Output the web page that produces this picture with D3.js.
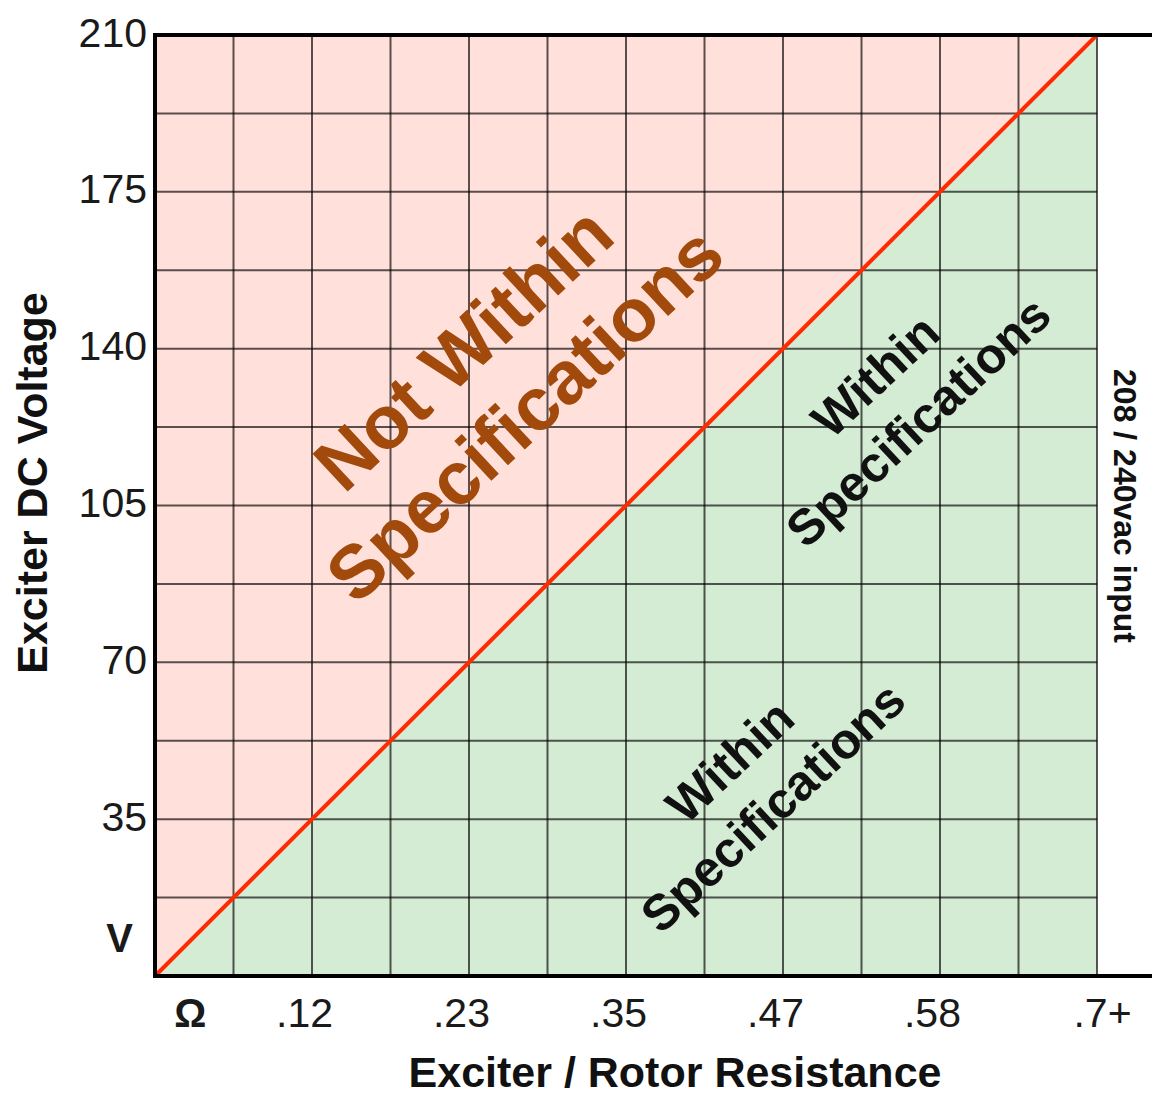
<!DOCTYPE html>
<html>
<head>
<meta charset="utf-8">
<script src="https://cdn.jsdelivr.net/npm/d3@7/dist/d3.min.js"></script>
<style>
  html, body { margin: 0; padding: 0; background: #fff; }
  svg { display: block; }
  text { font-family: "Liberation Sans", Arial, Helvetica, sans-serif; }
</style>
</head>
<body>
<svg id="chart" width="1152" height="1097"></svg>
<script>
// ---- data ----
const xDomain = [0, 0.7];            // exciter / rotor resistance (ohm)
const yDomain = [0, 210];            // exciter DC voltage
const xTickValues = [0, 0.1167, 0.2333, 0.35, 0.4667, 0.5833, 0.7];
const xTickLabels = ["Ω", ".12", ".23", ".35", ".47", ".58", ".7+"];
const yTickValues = [0, 35, 70, 105, 140, 175, 210];
const yTickLabels = ["V", "35", "70", "105", "140", "175", "210"];
const gridDivisions = 12;
const specLine = [{ r: 0, v: 0 }, { r: 0.7, v: 210 }];
const regionLabels = [
  { lines: ["Not Within", "Specifications"], r: 0.265, v: 128.5, kind: "out" },
  { lines: ["Within", "Specifications"], r: 0.560, v: 126, kind: "in" },
  { lines: ["Within", "Specifications"], r: 0.452, v: 40, kind: "in" }
];
const xTitle = "Exciter / Rotor Resistance";
const yTitle = "Exciter DC Voltage";
const rightNote = "208 / 240vac input";

// ---- layout ----
(function () {
const svg = d3.select("#chart");
const W = 1152;
const mLeft = 155, mRight = 1097, mTop = 35, mBottom = 976;

const x = d3.scaleLinear().domain(xDomain).range([mLeft, mRight]);
const y = d3.scaleLinear().domain(yDomain).range([mBottom, mTop]);

// regions
const xMin = xDomain[0], xMax = xDomain[1], yMin = yDomain[0], yMax = yDomain[1];
const a = specLine[0], b = specLine[1];
const poly = d3.line().x(d => x(d[0])).y(d => y(d[1]));
svg.append("path")
  .attr("d", poly([[a.r, a.v], [xMin, yMax], [b.r, b.v]]) + "Z")
  .attr("fill", "#ffe0db");
svg.append("path")
  .attr("d", poly([[a.r, a.v], [b.r, b.v], [xMax, yMin]]) + "Z")
  .attr("fill", "#d4ebd4");

// grid
const gx = d3.range(gridDivisions + 1).map(i => xMin + (xMax - xMin) * i / gridDivisions);
const gy = d3.range(gridDivisions + 1).map(i => yMin + (yMax - yMin) * i / gridDivisions);
const grid = svg.append("g").attr("stroke", "#000").attr("stroke-opacity", 0.65).attr("stroke-width", 2);
grid.selectAll("line.v").data(gx).join("line").attr("class", "v")
  .attr("x1", d => x(d)).attr("x2", d => x(d)).attr("y1", y(yMin)).attr("y2", y(yMax));
grid.selectAll("line.h").data(gy).join("line").attr("class", "h")
  .attr("x1", x(xMin)).attr("x2", x(xMax)).attr("y1", d => y(d)).attr("y2", d => y(d));

// spec line
svg.append("path")
  .datum(specLine)
  .attr("d", d3.line().x(d => x(d.r)).y(d => y(d.v)))
  .attr("stroke", "#ff2a00").attr("stroke-width", 4).attr("fill", "none");

// heavy frame lines
const frame = svg.append("g").attr("stroke", "#000").attr("stroke-width", 4);
frame.append("line").attr("x1", x(xMin)).attr("x2", x(xMin)).attr("y1", y(yMax) - 2).attr("y2", y(yMin) + 2);
frame.append("line").attr("x1", x(xMin) - 2).attr("x2", W).attr("y1", y(yMax)).attr("y2", y(yMax));
frame.append("line").attr("x1", x(xMin) - 2).attr("x2", W).attr("y1", y(yMin)).attr("y2", y(yMin));

// y axis labels
const yAxis = d3.axisLeft(y).tickValues(yTickValues).tickSize(0).tickPadding(8)
  .tickFormat((d, i) => yTickLabels[i]);
const yg = svg.append("g").attr("transform", `translate(${mLeft},0)`).call(yAxis);
yg.select(".domain").remove();
yg.selectAll(".tick text")
  .attr("font-family", "'Liberation Sans', Arial, sans-serif")
  .attr("font-size", 41).attr("fill", "#1a1a1a").attr("dy", "0.32em")
  .attr("y", -2);
yg.selectAll(".tick").filter(d => d === yTickValues[0])
  .attr("transform", `translate(0,${y(yMax / gridDivisions / 2) + 4})`)
  .select("text").attr("font-weight", "bold").attr("font-size", 40).attr("x", -22);

// x axis labels
const xAxis = d3.axisBottom(x).tickValues(xTickValues).tickSize(0).tickPadding(0)
  .tickFormat((d, i) => xTickLabels[i]);
const xg = svg.append("g").attr("transform", `translate(0,${mBottom})`).call(xAxis);
xg.select(".domain").remove();
xg.selectAll(".tick text")
  .attr("font-family", "'Liberation Sans', Arial, sans-serif")
  .attr("font-size", 41).attr("fill", "#1a1a1a")
  .attr("dy", null).attr("y", 51).attr("x", -8);
xg.selectAll(".tick").filter(d => d === xTickValues[xTickValues.length - 1])
  .select("text").attr("x", 5);
xg.selectAll(".tick").filter(d => d === xTickValues[0])
  .attr("transform", `translate(${x((xMax - xMin) / gridDivisions / 2) - 4},0)`)
  .select("text").attr("font-weight", "bold").attr("font-size", 40).attr("x", 0);

// axis titles
svg.append("text")
  .attr("x", 675).attr("y", 1087).attr("text-anchor", "middle")
  .attr("font-weight", "bold").attr("font-size", 43).attr("fill", "#111")
  .text(xTitle);
svg.append("text")
  .attr("transform", "translate(47,483) rotate(-90)").attr("text-anchor", "middle")
  .attr("font-weight", "bold").attr("font-size", 43).attr("fill", "#111")
  .text(yTitle);
svg.append("text")
  .attr("transform", "translate(1114,506) rotate(90)").attr("text-anchor", "middle")
  .attr("font-weight", "bold").attr("font-size", 32).attr("fill", "#111")
  .text(rightNote);

// region labels
const angle = -43;
regionLabels.forEach(L => {
  const big = L.kind === "out";
  const fs = big ? 75 : 50;
  const gap = big ? 90 : 63;
  const g = svg.append("g")
    .attr("transform", `translate(${x(L.r)},${y(L.v)}) rotate(${angle})`);
  g.selectAll("text").data(L.lines).join("text")
    .attr("x", 0)
    .attr("y", (d, i) => (i - (L.lines.length - 1) / 2) * gap)
    .attr("text-anchor", "middle")
    .attr("font-weight", "bold")
    .attr("font-size", fs)
    .attr("fill", big ? "#a24a0c" : "#111")
    .text(d => d);
});
})();
</script>
</body>
</html>
